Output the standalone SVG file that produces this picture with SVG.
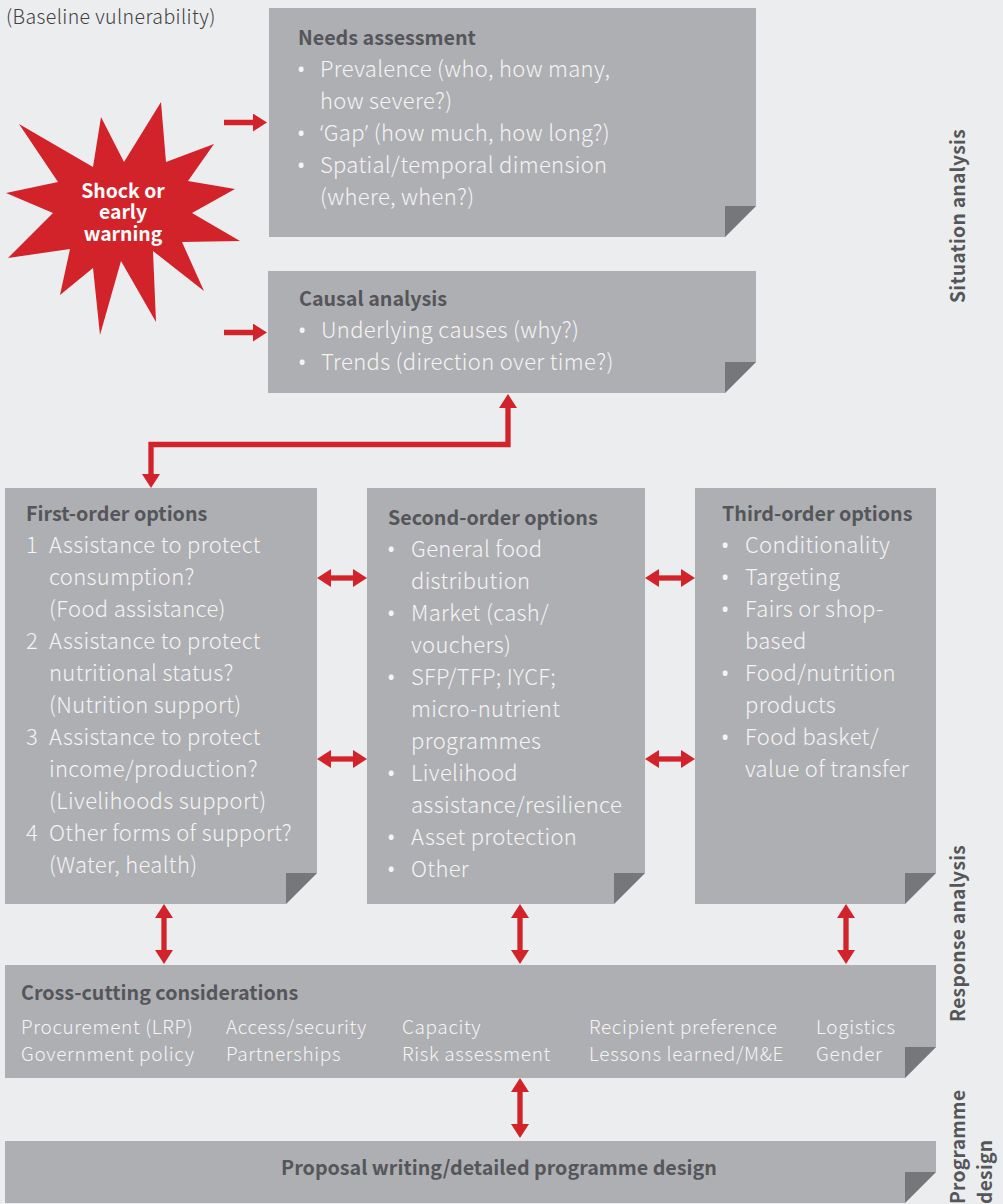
<svg xmlns="http://www.w3.org/2000/svg" width="1003" height="1204" viewBox="0 0 1003 1204">
<defs>
<style>
text{font-family:"Noto Sans CJK SC","Noto Sans",sans-serif;}
.b{fill:#aeafb2}
.f{fill:#76777a}
.t{font-size:22px;fill:#f4f4f5;font-weight:300;letter-spacing:.33px}
.u{font-size:21.8px;fill:#f4f4f5;font-family:"Noto Sans",sans-serif}
.q{font-family:"Noto Sans",sans-serif}
.s{font-size:19px;fill:#f4f4f5;letter-spacing:.63px;font-weight:300}
.h{font-size:19.7px;font-weight:700;fill:#55565a}
.v{font-size:19.2px;font-weight:700;fill:#55565a;letter-spacing:.3px}
.w{font-size:19.4px;font-weight:700;fill:#fff;text-anchor:middle}
.c{fill:none;stroke:#d2232a;stroke-width:5.3}
.r{fill:#d2232a}
</style>
<marker id="ah" markerUnits="userSpaceOnUse" markerWidth="18" markerHeight="18" refX="4" refY="9" orient="auto-start-reverse"><path d="M0,0 L14,9 L0,18 Z" fill="#d2232a"/></marker>
</defs>
<rect width="1003" height="1204" fill="#ecedef"/>
<text x="6" y="24" font-size="19.5" fill="#414042" font-weight="300" letter-spacing=".4">(Baseline vulnerability)</text>
<g id="shock">
<polygon class="r" points="161,102 124,162 101,117 93,167 19,124 58,182 6,193 53,213 8,258 70,249 60,295 93,268 100,335 121,261 156,322 153,251 204,291 182,242 240,241 192,213 235,189 188,181 214,144 166,162"/>
<text class="w" x="123" y="198">Shock or</text>
<text class="w" x="123" y="219">early</text>
<text class="w" x="123" y="241">warning</text>
</g>
<g id="needs">
<polygon class="b" points="269,8 756,8 756,206 725,237 269,237"/><polygon class="f" points="725,206 756,206 725,237"/>
<text class="h" x="298" y="45">Needs assessment</text>
<text class="u" x="297" y="77">•</text><text class="t" x="320" y="77">Prevalence (who, how many,</text>
<text class="t" x="320" y="109">how severe?)</text>
<text class="u" x="297" y="141">•</text><text class="t" x="320" y="141"><tspan class="q">‘</tspan>Gap<tspan class="q">’</tspan> (how much, how long?)</text>
<text class="u" x="297" y="173">•</text><text class="t" x="320" y="173">Spatial/temporal dimension</text>
<text class="t" x="320" y="205">(where, when?)</text>
</g>
<g id="causal">
<polygon class="b" points="268,271 756,271 756,362 725,393 268,393"/><polygon class="f" points="725,362 756,362 725,393"/>
<text class="h" x="299" y="306">Causal analysis</text>
<text class="u" x="298" y="338">•</text><text class="t" x="321" y="338">Underlying causes (why?)</text>
<text class="u" x="298" y="370">•</text><text class="t" x="321" y="370">Trends (direction over time?)</text>
</g>
<g id="first">
<polygon class="b" points="5,488 317,488 317,873 286,904 5,904"/><polygon class="f" points="286,873 317,873 286,904"/>
<text class="h" x="26" y="521">First-order options</text>
<text class="t" x="26" y="553">1</text><text class="t" x="49" y="553">Assistance to protect</text>
<text class="t" x="49" y="585">consumption?</text>
<text class="t" x="49" y="617">(Food assistance)</text>
<text class="t" x="26" y="649">2</text><text class="t" x="49" y="649">Assistance to protect</text>
<text class="t" x="49" y="681">nutritional status?</text>
<text class="t" x="49" y="713">(Nutrition support)</text>
<text class="t" x="26" y="745">3</text><text class="t" x="49" y="745">Assistance to protect</text>
<text class="t" x="49" y="777">income/production?</text>
<text class="t" x="49" y="809">(Livelihoods support)</text>
<text class="t" x="26" y="841">4</text><text class="t" x="49" y="841">Other forms of support?</text>
<text class="t" x="49" y="873">(Water, health)</text>
</g>
<g id="second">
<polygon class="b" points="367,488 645,488 645,873 614,904 367,904"/><polygon class="f" points="614,873 645,873 614,904"/>
<text class="h" x="388" y="525">Second-order options</text>
<text class="u" x="387" y="557">•</text><text class="t" x="411" y="557">General food</text>
<text class="t" x="411" y="589">distribution</text>
<text class="u" x="387" y="621">•</text><text class="t" x="411" y="621">Market (cash/</text>
<text class="t" x="411" y="653">vouchers)</text>
<text class="u" x="387" y="685">•</text><text class="t" x="411" y="685">SFP/TFP; IYCF;</text>
<text class="t" x="411" y="717">micro-nutrient</text>
<text class="t" x="411" y="749">programmes</text>
<text class="u" x="387" y="781">•</text><text class="t" x="411" y="781">Livelihood</text>
<text class="t" x="411" y="813">assistance/resilience</text>
<text class="u" x="387" y="845">•</text><text class="t" x="411" y="845">Asset protection</text>
<text class="u" x="387" y="877">•</text><text class="t" x="411" y="877">Other</text>
</g>
<g id="third">
<polygon class="b" points="695,488 936,488 936,873 905,904 695,904"/><polygon class="f" points="905,873 936,873 905,904"/>
<text class="h" x="722" y="521">Third-order options</text>
<text class="u" x="721" y="553">•</text><text class="t" x="745" y="553">Conditionality</text>
<text class="u" x="721" y="585">•</text><text class="t" x="745" y="585">Targeting</text>
<text class="u" x="721" y="617">•</text><text class="t" x="745" y="617">Fairs or shop-</text>
<text class="t" x="745" y="649">based</text>
<text class="u" x="721" y="681">•</text><text class="t" x="745" y="681">Food/nutrition</text>
<text class="t" x="745" y="713">products</text>
<text class="u" x="721" y="745">•</text><text class="t" x="745" y="745">Food basket/</text>
<text class="t" x="745" y="777">value of transfer</text>
</g>
<g id="cross">
<polygon class="b" points="5,965 936,965 936,1047 905,1078 5,1078"/><polygon class="f" points="905,1047 936,1047 905,1078"/>
<text class="h" x="21" y="1000">Cross-cutting considerations</text>
<text class="s" x="21" y="1034">Procurement (LRP)</text><text class="s" x="21" y="1061">Government policy</text>
<text class="s" x="226" y="1034">Access/security</text><text class="s" x="226" y="1061">Partnerships</text>
<text class="s" x="402" y="1034">Capacity</text><text class="s" x="402" y="1061">Risk assessment</text>
<text class="s" x="589" y="1034">Recipient preference</text><text class="s" x="589" y="1061">Lessons learned/M&amp;E</text>
<text class="s" x="816" y="1034">Logistics</text><text class="s" x="816" y="1061">Gender</text>
</g>
<g id="proposal">
<polygon class="b" points="5,1141 936,1141 936,1172 905,1203 5,1203"/><polygon class="f" points="905,1172 936,1172 905,1203"/>
<text class="h" x="499" y="1175" text-anchor="middle">Proposal writing/detailed programme design</text>
</g>
<g id="labels">
<text class="v" transform="translate(965,303) rotate(-90)">Situation analysis</text>
<text class="v" transform="translate(965,1022) rotate(-90)">Response analysis</text>
<text class="v" transform="translate(965,1204) rotate(-90)">Programme</text>
<text class="v" transform="translate(992,1204) rotate(-90)">design</text>
</g>
<g id="connectors">
<path class="c" d="M224,122.500H257" marker-end="url(#ah)"/>
<path class="c" d="M224,332.500H257" marker-end="url(#ah)"/>
<path class="c" d="M508,404V444.500H151V478" marker-start="url(#ah)" marker-end="url(#ah)"/>
<path class="c" d="M327,578H357" marker-start="url(#ah)" marker-end="url(#ah)"/>
<path class="c" d="M327,759H357" marker-start="url(#ah)" marker-end="url(#ah)"/>
<path class="c" d="M655,578H685" marker-start="url(#ah)" marker-end="url(#ah)"/>
<path class="c" d="M655,759H685" marker-start="url(#ah)" marker-end="url(#ah)"/>
<path class="c" d="M164,914V954" marker-start="url(#ah)" marker-end="url(#ah)"/>
<path class="c" d="M520,914V954" marker-start="url(#ah)" marker-end="url(#ah)"/>
<path class="c" d="M846,914V954" marker-start="url(#ah)" marker-end="url(#ah)"/>
<path class="c" d="M520,1088V1128" marker-start="url(#ah)" marker-end="url(#ah)"/>
</g>
</svg>
